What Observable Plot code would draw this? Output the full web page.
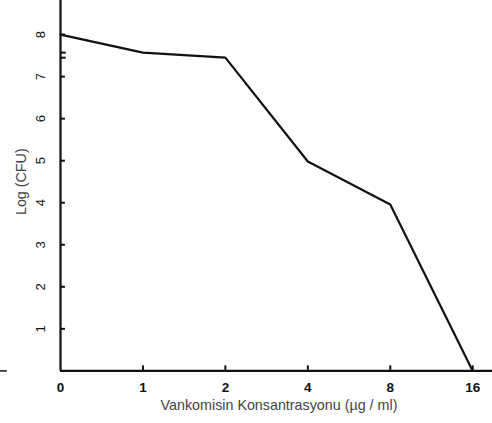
<!DOCTYPE html>
<html>
<head>
<meta charset="utf-8">
<script src="https://cdn.jsdelivr.net/npm/d3@7"></script>
<script src="https://cdn.jsdelivr.net/npm/@observablehq/plot@0.6"></script>
<style>
  html, body { margin: 0; padding: 0; background: #fff; }
  #chart svg { display: block; }
</style>
</head>
<body>
<div id="chart"></div>
<script>
const concentrations = ["0", "1", "2", "4", "8", "16"];
const logCFU = [8.0, 7.57, 7.45, 4.98, 3.96, 0];
const yTicks = [1, 2, 3, 4, 5, 6, 7, 8];
const xTitle = "Vankomisin Konsantrasyonu (µg / ml)";
const yTitle = "Log (CFU)";

const data = concentrations.map((c, i) => ({i, c, v: logCFU[i]}));
const xIdx = concentrations.map((c, i) => i);

const chart = Plot.plot({
  width: 492,
  height: 423,
  marginLeft: 60,
  marginRight: 0,
  marginTop: 0,
  marginBottom: 52.6,
  x: {domain: [0, 5.24], axis: null},
  y: {domain: [0, 8.81], axis: null},
  style: {fontFamily: "Liberation Sans, Arial, sans-serif", background: "#fff"},
  marks: [
    // axis lines
    Plot.ruleY([0], {stroke: "#111", strokeWidth: 2.2}),
    Plot.ruleX([0], {stroke: "#111", strokeWidth: 2.2}),
    // stray dash at left
    Plot.ruleY([0], {x1: -0.73, x2: -0.645, stroke: "#111", strokeWidth: 1.5}),
    // inward ticks
    Plot.ruleX(xIdx.slice(1), {y1: 0, y2: 0.12, stroke: "#111", strokeWidth: 2}),
    Plot.ruleY(yTicks, {x1: 0, x2: 0.06, stroke: "#111", strokeWidth: 2}),
    Plot.ruleY(logCFU.slice(1, 3), {x1: 0, x2: 0.07, stroke: "#111", strokeWidth: 2}),
    // tick labels
    Plot.text(data, {x: "i", y: 0, text: "c", dy: 17, fontSize: 13.5, fontWeight: "bold", fill: "#111"}),
    Plot.text(yTicks, {x: 0, y: d => d, text: d => String(d), dx: -20, rotate: -90, fontSize: 13, fill: "#111"}),
    // titles
    Plot.text([xTitle], {x: 2.65, y: 0, dy: 35, text: d => d, fontSize: 14.3, fill: "#444"}),
    Plot.text([yTitle], {x: 0, y: 4.5, dx: -39, rotate: -90, text: d => d, fontSize: 14.3, fill: "#444"}),
    // data line
    Plot.line(data, {x: "i", y: "v", stroke: "#111", strokeWidth: 2.2})
  ]
});
document.getElementById("chart").appendChild(chart);
</script>
</body>
</html>
